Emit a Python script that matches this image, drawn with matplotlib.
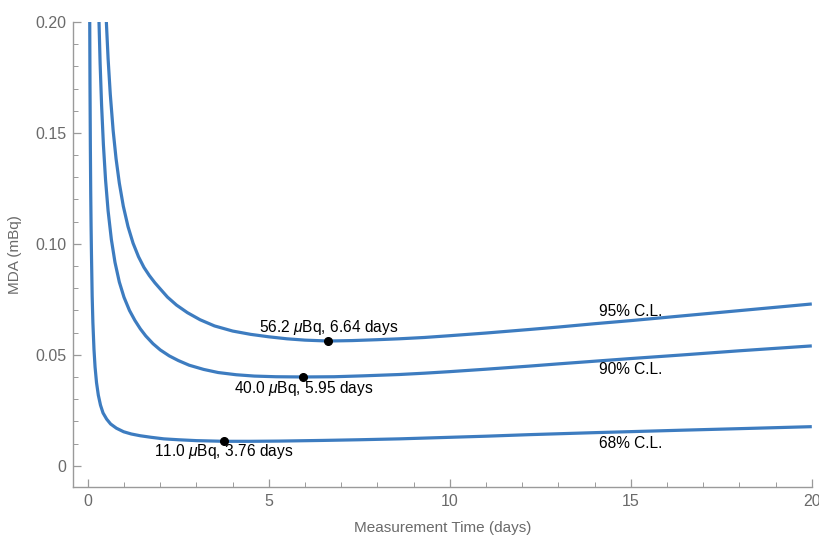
import matplotlib
matplotlib.use("Agg")
import matplotlib.pyplot as plt
from matplotlib.ticker import MultipleLocator, FixedLocator

# ── Data (t in days, MDA in mBq) ────────────────────────────────────────────
t68 = [0.052, 0.06, 0.07, 0.08, 0.09, 0.10, 0.12, 0.14, 0.17, 0.20, 0.24,
       0.29, 0.35, 0.42, 0.52, 0.63, 0.79, 0.99, 1.2, 1.45, 1.75, 2.1, 2.5,
       3.0, 3.76, 4.5, 5.3, 6.5, 7.5, 8.6, 10.0, 11.0, 12.2, 14.0, 16.4, 18.0,
       20.0]
v68 = [0.203, 0.172, 0.144, 0.123, 0.108, 0.096, 0.0765, 0.0645, 0.0525,
       0.0445, 0.0375, 0.0318, 0.0273, 0.0238, 0.0210, 0.0188, 0.0169, 0.0153,
       0.0143, 0.0135, 0.0128, 0.0121, 0.0117, 0.0113, 0.0110, 0.0110, 0.0111,
       0.0114, 0.0117, 0.0121, 0.0128, 0.0133, 0.0140, 0.0149, 0.0160, 0.0167,
       0.0176]

t90 = [0.30, 0.34, 0.38, 0.43, 0.49, 0.56, 0.65, 0.75, 0.87, 1.0, 1.15, 1.3,
       1.45, 1.6, 1.8, 2.0, 2.25, 2.5, 2.8, 3.2, 3.6, 4.1, 4.6, 5.2, 5.95, 6.8,
       7.6, 8.6, 9.3, 10.0, 11.0, 12.2, 13.0, 14.0, 15.0, 16.4, 18.0, 20.0]
v90 = [0.2055, 0.1812, 0.1626, 0.1448, 0.1288, 0.1149, 0.1020, 0.0917,
       0.0828, 0.0759, 0.0700, 0.0655, 0.0617, 0.0585, 0.0550, 0.0522, 0.0495,
       0.0474, 0.0453, 0.0434, 0.0420, 0.0410, 0.0404, 0.0401, 0.0400, 0.0401,
       0.0405, 0.0411, 0.0417, 0.0424, 0.0435, 0.0449, 0.0459, 0.0471, 0.0483,
       0.0499, 0.0518, 0.0540]

t95 = [0.50, 0.56, 0.62, 0.70, 0.78, 0.87, 0.98, 1.11, 1.25, 1.40, 1.55, 1.7,
       1.85, 2.0, 2.2, 2.45, 2.75, 3.1, 3.5, 4.0, 4.5, 5.0, 5.5, 6.0, 6.64,
       7.3, 8.0, 8.6, 9.3, 10.0, 11.0, 12.2, 13.0, 14.0, 15.0, 16.4, 18.0, 20.0]
v95 = [0.2041, 0.1835, 0.1675, 0.1510, 0.1384, 0.1274, 0.1170, 0.1078,
       0.1003, 0.0942, 0.0894, 0.0857, 0.0825, 0.0797, 0.0760, 0.0724, 0.0690,
       0.0658, 0.0630, 0.0607, 0.0592, 0.0581, 0.0572, 0.0566, 0.0562, 0.0564,
       0.0568, 0.0572, 0.0578, 0.0586, 0.0598, 0.0614, 0.0625, 0.0640, 0.0654,
       0.0675, 0.0699, 0.0729]

# minima: (time, MDA) and their labels
min_t = [3.76, 5.95, 6.64]
min_v = [0.0110, 0.0400, 0.0562]
min_labels = ["11.0 $\\mu$Bq, 3.76 days", "40.0 $\\mu$Bq, 5.95 days",
              "56.2 $\\mu$Bq, 6.64 days"]

cl_labels = ["68% C.L.", "90% C.L.", "95% C.L."]
cl_label_y = [0.0101, 0.0432, 0.0695]

x_ticks = [0, 5, 10, 15, 20]
y_ticks = [0, 0.05, 0.10, 0.15, 0.20]
y_ticklabels = ["0", "0.05", "0.10", "0.15", "0.20"]

# ── Style ────────────────────────────────────────────────────────────────────
plt.rcParams["font.family"] = ["Liberation Sans", "DejaVu Sans"]
plt.rcParams["mathtext.fontset"] = "custom"
plt.rcParams["mathtext.it"] = "Liberation Sans:italic"
plt.rcParams["mathtext.rm"] = "Liberation Sans"

LINE = "#3d7cc0"
GREY = "#6a6a6a"
SPINE = "#9a9a9a"

fig = plt.figure(figsize=(8.2, 5.36), dpi=100)
ax = fig.add_axes([0.089, 0.0914, 0.901, 0.8676])

for t, v in ((t68, v68), (t90, v90), (t95, v95)):
    ax.plot(t, v, color=LINE, lw=2.3, solid_capstyle="butt")

ax.plot(min_t, min_v, "o", color="black", ms=5.5, zorder=4)

# minimum labels: 68% and 90% below the dot, 95% above it
offsets = [-0.0047, -0.0050, 0.0060]
for tx, vy, lab, off in zip(min_t, min_v, min_labels, offsets):
    ax.text(tx, vy + off, lab, ha="center", va="center", fontsize=11.2,
            color="black")

for lab, ly in zip(cl_labels, cl_label_y):
    ax.text(15.0, ly, lab, ha="center", va="center", fontsize=11.2,
            color="black")

ax.set_xlim(-0.41, 20.0)
ax.set_ylim(-0.0096, 0.2)

ax.xaxis.set_major_locator(FixedLocator(x_ticks))
ax.xaxis.set_minor_locator(MultipleLocator(1))
ax.yaxis.set_major_locator(FixedLocator(y_ticks))
ax.set_yticklabels(y_ticklabels)
ax.yaxis.set_minor_locator(MultipleLocator(0.01))

ax.tick_params(which="both", direction="in", color=SPINE, labelcolor=GREY,
               labelsize=11.5)
ax.tick_params(which="major", length=6, width=0.9, pad=5)
ax.tick_params(which="minor", length=3.5, width=0.7)

for side in ("top", "right"):
    ax.spines[side].set_visible(False)
for side in ("left", "bottom"):
    ax.spines[side].set_color(SPINE)
    ax.spines[side].set_linewidth(1.0)

ax.set_xlabel("Measurement Time (days)", color=GREY, fontsize=11, labelpad=9)
ax.set_ylabel("MDA (mBq)", color=GREY, fontsize=11, labelpad=9)

fig.savefig("out.png", dpi=100)
